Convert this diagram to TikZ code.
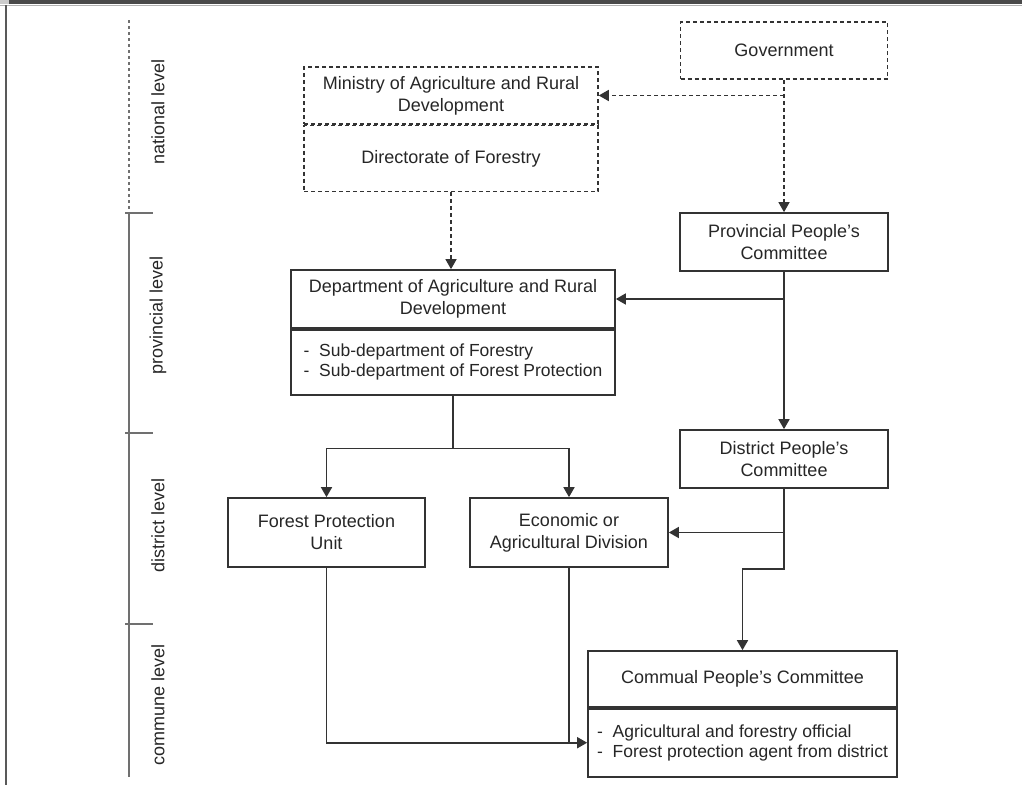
\documentclass[tikz,border=0pt]{standalone}
\usepackage{fontspec}
\setmainfont{Liberation Sans}
\usetikzlibrary{arrows.meta, positioning}

\definecolor{linegray}{HTML}{333333}
\definecolor{axisgray}{HTML}{707070}
\definecolor{bargray}{HTML}{4A4A4A}

\begin{document}
\begin{tikzpicture}[x=1pt, y=-1pt, >={Triangle[length=10pt,width=11pt]},
    font=\fontsize{18}{22}\selectfont, text=black!85,
    box/.style={draw=linegray, line width=1.7pt, align=center, inner sep=0pt},
    dbox/.style={box, line width=1.5pt, dash pattern=on 4pt off 3pt},
    listbox/.style={box, align=left, font=\fontsize{17.5}{20}\selectfont},
    conn/.style={draw=linegray, line width=1.7pt},
    dconn/.style={conn, line width=1.5pt, dash pattern=on 4pt off 3pt},
    axis/.style={draw=axisgray, line width=2.2pt},
    lvl/.style={rotate=90}]

\useasboundingbox (0,0) rectangle (1022,785);

%\draw[xstep=50,ystep=50,color=gray!30] (0,0) grid (1022,785);

% frame
\fill[bargray] (0,0) rectangle (1022,4);
\fill[gray!40] (0,0) rectangle (9,4);
\draw[gray!60, line width=1pt] (0,5) -- (1022,5);
\draw[gray!70!black, line width=2pt] (6,5) -- (6,785);

% levels
\draw[axis, dash pattern=on 3pt off 3pt] (129,20) -- (129,213);
\draw[axis] (129,213) -- (129,777);
    	\foreach \y in {213,433,624}
     		\draw[axis] (125,\y) -- (153,\y);

\node[lvl] (natl) at (158,112) {national level};
\node[lvl] (prov) at (158,315) {provincial level};
\node[lvl] (dist) at (158,525) {district level};
\node[lvl] (comm) at (158,705) {commune level};

% boxes
\node[dbox, minimum width=207, minimum height=57] (gov) at (784,50.5) {Government};
\node[dbox, minimum width=294, minimum height=57] (mard) at (451,95.5) {Ministry of Agriculture and Rural\\Development};
\node[dbox, minimum width=294, minimum height=66, below=0pt of mard] (dof) {Directorate of Forestry};

\node[box, minimum width=208, minimum height=58] (ppc) at (784,242) {Provincial People's\\Committee};
\node[box, minimum width=324, minimum height=58] (dard) at (453,299) {Department of Agriculture and Rural\\Development};
\node[listbox, minimum width=324, minimum height=65, below=0pt of dard] (dardsub) {-\ \ Sub-department of Forestry\\-\ \ Sub-department of Forest Protection};

\node[box, minimum width=208, minimum height=58] (dpc) at (784,459) {District People's\\Committee};
\node[box, minimum width=197, minimum height=69] (fpu) at (326.5,532.5) {Forest Protection\\Unit};
\node[box, minimum width=198, minimum height=69] (ead) at (569,532.5) {Economic or\\Agricultural Division};

\node[box, minimum width=309, minimum height=56] (cpc) at (742.5,679) {Commual People's Committee};
\node[listbox, minimum width=309, minimum height=68, below=0pt of cpc] (cpcsub) {-\ \ Agricultural and forestry official\\-\ \ Forest protection agent from district};

% connectors
\draw[dconn, ->] (gov.south) -- (ppc.north);
\draw[dconn, ->] (gov.south |- mard.east) -- (mard.east);
\draw[dconn, ->] (dof.south) -- (dof.south |- dard.north);

\draw[conn, ->] (ppc.south) -- (dpc.north);
\draw[conn, ->] (ppc.south |- dard.east) -- (dard.east);

\draw[conn] (dardsub.south) -- ++(0,53) coordinate (split);
\draw[conn, ->] (split) -| (fpu.north);
\draw[conn, ->] (split) -| (ead.north);

\draw[conn, ->] (dpc.south |- ead.east) -- (ead.east);
\draw[conn, ->] (dpc.south) -- ++(0,80) -| (cpc.north);

\draw[conn, ->] (fpu.south) |- (cpcsub.west);
\draw[conn] (ead.south) -- (ead.south |- cpcsub.west);

\end{tikzpicture}
\end{document}
